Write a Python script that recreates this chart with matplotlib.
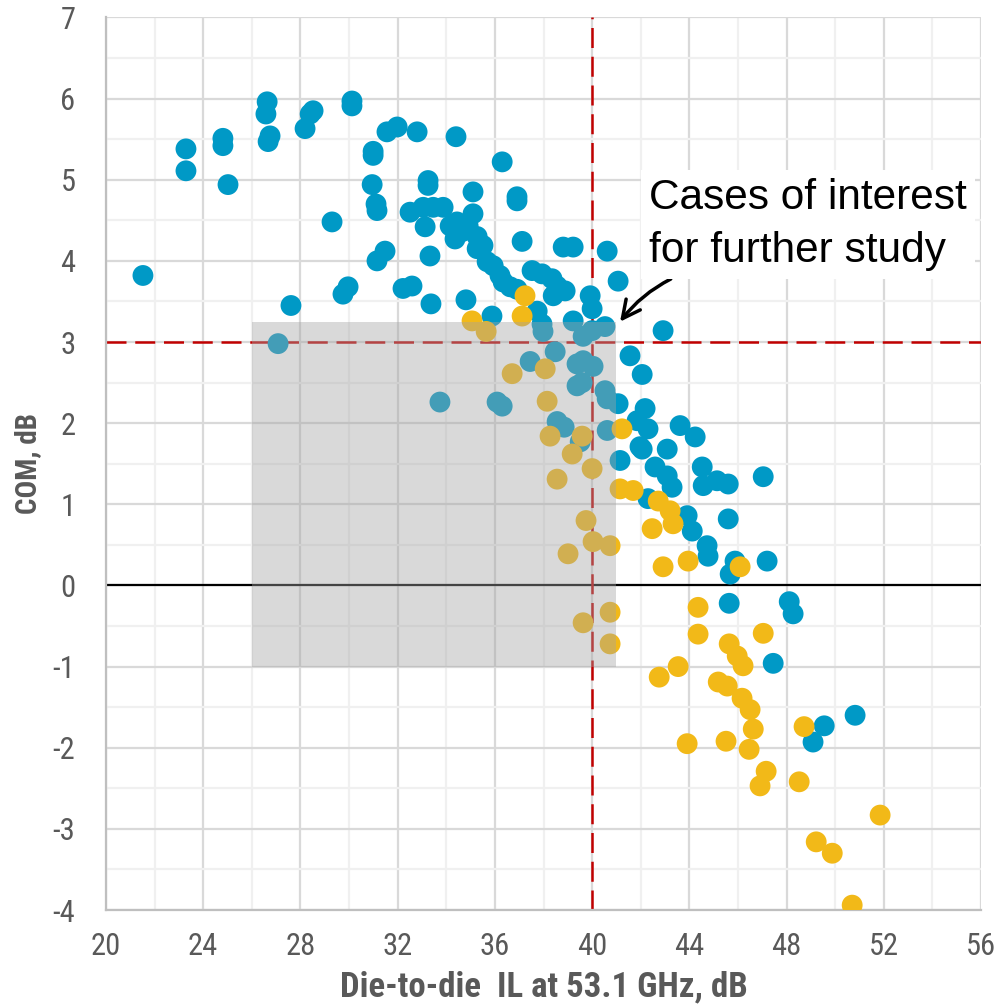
import numpy as np
import matplotlib
matplotlib.use("Agg")
import matplotlib.pyplot as plt
from matplotlib.patches import Rectangle
from matplotlib.ticker import MultipleLocator

# die-to-die insertion loss (dB) and COM (dB)
blue_il = [21.52, 23.29, 23.29, 24.81, 24.81, 25.02, 26.63, 26.58, 26.75, 26.67,
           27.08, 27.61, 28.19, 28.40, 28.52, 30.12, 30.12, 29.30, 29.75, 29.96,
           30.99, 30.99, 30.95, 31.11, 31.15, 31.48, 31.15, 31.56, 31.98, 32.80,
           32.22, 32.59, 32.51, 33.05, 33.46, 33.87, 33.25, 33.25, 33.13, 33.33,
           33.37, 33.74, 34.40, 34.16, 34.44, 34.65, 34.36, 34.90, 35.10, 35.10,
           35.27, 35.51, 35.27, 34.81, 35.88, 36.30, 35.68, 35.93, 36.21, 36.09,
           36.30, 36.34, 36.63, 36.91, 36.91, 36.91, 37.12, 37.53, 37.94, 38.35,
           38.56, 38.89, 38.40, 37.74, 37.94, 37.98, 37.45, 38.48, 38.81, 39.22,
           39.22, 39.92, 40.00, 40.62, 41.07, 40.53, 39.63, 40.00, 39.38, 39.63,
           40.04, 39.38, 39.59, 40.53, 40.62, 38.56, 38.85, 39.51, 40.62, 41.15,
           41.56, 42.06, 42.92, 41.07, 42.18, 42.30, 41.85, 43.62, 44.24, 42.06,
           43.09, 42.59, 43.09, 43.29, 44.53, 44.57, 45.14, 45.60, 47.04, 42.30,
           43.91, 44.12, 45.60, 44.73, 44.77, 45.88, 45.68, 47.20, 45.64, 48.11,
           48.27, 47.45, 49.55, 49.09, 50.82, 41.97]
blue_com = [3.82, 5.38, 5.11, 5.51, 5.42, 4.94, 5.96, 5.81, 5.54, 5.47,
            2.98, 3.45, 5.63, 5.81, 5.85, 5.97, 5.91, 4.48, 3.59, 3.68,
            5.35, 5.30, 4.94, 4.70, 4.62, 4.12, 4.00, 5.59, 5.65, 5.59,
            3.66, 3.69, 4.60, 4.66, 4.66, 4.66, 4.99, 4.93, 4.42, 4.06,
            3.47, 2.26, 5.53, 4.43, 4.48, 4.36, 4.27, 4.43, 4.85, 4.58,
            4.30, 4.19, 4.15, 3.52, 3.32, 5.22, 3.99, 3.94, 3.82, 2.26,
            2.21, 3.74, 3.68, 3.65, 4.74, 4.79, 4.24, 3.88, 3.84, 3.78,
            3.69, 3.63, 3.57, 3.38, 3.22, 3.13, 2.76, 2.88, 4.17, 4.17,
            3.26, 3.57, 3.41, 4.12, 3.75, 3.19, 3.07, 3.14, 2.73, 2.77,
            2.70, 2.46, 2.50, 2.40, 2.30, 2.02, 1.95, 1.77, 1.91, 1.54,
            2.83, 2.60, 3.14, 2.24, 2.18, 1.93, 2.03, 1.97, 1.83, 1.68,
            1.68, 1.46, 1.35, 1.21, 1.46, 1.23, 1.29, 1.25, 1.34, 1.07,
            0.86, 0.67, 0.82, 0.49, 0.36, 0.30, 0.14, 0.30, -0.22, -0.20,
            -0.35, -0.96, -1.73, -1.93, -1.60, 1.71]

yellow_il = [37.24, 37.12, 35.06, 35.64, 36.71, 38.07, 38.15, 38.27, 39.59, 39.18,
             40.00, 38.56, 41.23, 41.15, 41.69, 39.75, 40.04, 40.74, 39.01, 42.47,
             42.72, 43.21, 43.33, 43.95, 42.92, 46.09, 40.74, 39.63, 40.74, 44.36,
             44.36, 47.04, 45.64, 45.97, 46.21, 43.54, 42.76, 45.19, 45.56, 46.17,
             46.50, 46.63, 48.72, 43.91, 45.51, 46.46, 47.16, 46.91, 48.52, 51.85,
             49.22, 49.88, 50.70]
yellow_com = [3.57, 3.32, 3.26, 3.13, 2.61, 2.67, 2.27, 1.84, 1.84, 1.62,
              1.44, 1.31, 1.93, 1.19, 1.17, 0.80, 0.54, 0.49, 0.39, 0.70,
              1.04, 0.92, 0.76, 0.30, 0.23, 0.23, -0.33, -0.46, -0.72, -0.27,
              -0.60, -0.59, -0.72, -0.87, -0.99, -1.00, -1.13, -1.19, -1.24, -1.39,
              -1.53, -1.77, -1.74, -1.95, -1.92, -2.02, -2.29, -2.47, -2.42, -2.83,
              -3.16, -3.30, -3.94]

il_limit = 40
com_limit = 3
box_il = (26, 41)
box_com = (-1, 3.25)

BLUE = "#0099C6"
YELLOW = "#F2B918"
GREY_TXT = "#595959"
NARROW = ['Roboto Condensed', 'Liberation Sans', 'DejaVu Sans']

plt.rcParams['font.family'] = ['Liberation Sans', 'DejaVu Sans']
plt.rcParams['axes.unicode_minus'] = False

fig = plt.figure(figsize=(10, 10.08), dpi=100)
ax = fig.add_axes([0.106, 0.0972, 0.875, 0.8855])

ax.set_xlim(20, 56)
ax.set_ylim(-4, 7)
ax.xaxis.set_major_locator(MultipleLocator(4))
ax.xaxis.set_minor_locator(MultipleLocator(2))
ax.yaxis.set_major_locator(MultipleLocator(1))
ax.yaxis.set_minor_locator(MultipleLocator(0.5))
ax.grid(which='major', color='#D9D9D9', lw=1.6, zorder=0)
ax.grid(which='minor', color='#F0F0F0', lw=1.6, zorder=0)
ax.set_axisbelow(True)
for side in ['top', 'right']:
    ax.spines[side].set_visible(False)
for side in ['left', 'bottom']:
    ax.spines[side].set_color('#BFBFBF')
    ax.spines[side].set_linewidth(1.6)
ax.tick_params(which='both', length=0, labelsize=22, labelcolor=GREY_TXT)
ax.tick_params(axis='x', pad=16)
ax.tick_params(axis='y', pad=22)
for lab in ax.get_xticklabels() + ax.get_yticklabels():
    lab.set_family(NARROW)

ax.axhline(0, color='black', lw=1.6, zorder=2)
ax.axvline(il_limit, color='#C00000', lw=1.8, dashes=(8, 3.5), zorder=2)
ax.axhline(com_limit, color='#C00000', lw=1.8, dashes=(8, 3.5), zorder=2)

ax.scatter(blue_il, blue_com, s=225, color=BLUE, edgecolors='none', zorder=3)
ax.scatter(yellow_il, yellow_com, s=225, color=YELLOW, edgecolors='none', zorder=4)

ax.add_patch(Rectangle((box_il[0], box_com[0]), box_il[1] - box_il[0], box_com[1] - box_com[0],
                       facecolor='#A3A3A3', alpha=0.41, edgecolor='none', zorder=5))

ax.annotate("Cases of interest\nfor further study", xy=(41.15, 3.25), xytext=(42.35, 4.45),
            fontsize=30.5, color='black', ha='left', va='center', linespacing=1.4,
            bbox=dict(boxstyle='square,pad=0.2', facecolor='white', edgecolor='none'),
            arrowprops=dict(arrowstyle='->', color='black', lw=2.5, mutation_scale=32,
                            connectionstyle='arc3,rad=0.15', shrinkA=0, shrinkB=0,
                            relpos=(0.13, 0.0)),
            zorder=6)

ax.set_xlabel("Die-to-die  IL at 53.1 GHz, dB", fontsize=25, fontweight='bold',
              color=GREY_TXT, family=NARROW)
ax.set_ylabel("COM, dB", fontsize=21, fontweight='bold', color=GREY_TXT, family=NARROW)
ax.xaxis.set_label_coords(0.5, -0.068)
ax.yaxis.set_label_coords(-0.073, 0.5)

fig.savefig("out.png", dpi=100)
